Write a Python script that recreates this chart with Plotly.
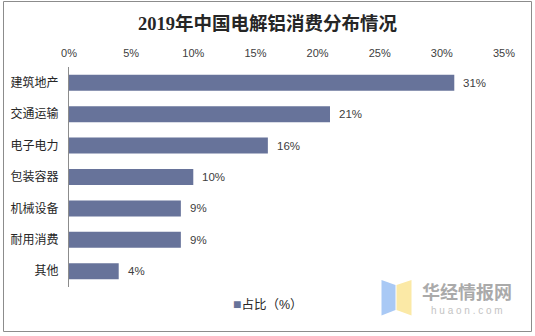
import plotly.graph_objects as go

categories = ["建筑地产", "交通运输", "电子电力", "包装容器", "机械设备", "耐用消费", "其他"]
values = [31, 21, 16, 10, 9, 9, 4]
x_ticks = [0, 5, 10, 15, 20, 25, 30, 35]
series_name = "占比（%）"
title_text = "2019年中国电解铝消费分布情况"

W, H = 535, 336
ML, MR, MT, MB = 69, 31, 67, 49
PW, PH = W - ML - MR, H - MT - MB

def px(x):
    return (x - ML) / PW

def py(y):
    return (H - MB - y) / PH

BAR = "#67739A"
TXT = "#404040"
SANS = "Liberation Sans, Arial, Noto Sans CJK SC, sans-serif"

fig = go.Figure()
fig.add_trace(go.Bar(
    x=values, y=categories, orientation="h",
    marker=dict(color=BAR, line=dict(width=0)),
    width=0.51,
    showlegend=False,
    name=series_name,
))
fig.add_trace(go.Scatter(
    x=[None], y=[None], mode="markers",
    marker=dict(symbol="square", size=1, color="rgba(0,0,0,0)"),
    name=f"<span style='color:{BAR};font-family:Liberation Sans;font-size:14px'>■</span>{series_name}",
    showlegend=True,
))

shapes = [
    dict(type="rect", xref="paper", yref="paper",
         x0=px(3.5), x1=px(531.5), y0=py(331.5), y1=py(1.5),
         line=dict(color="#8c8c8c", width=1), fillcolor="rgba(0,0,0,0)", layer="below"),
    dict(type="path", xref="paper", yref="paper",
         path=f"M{px(381.5)},{py(280)} L{px(395.5)},{py(285)} L{px(395.5)},{py(310)} L{px(381.5)},{py(315.5)} Z",
         fillcolor="#a9c9f5", line=dict(width=0), layer="below"),
    dict(type="path", xref="paper", yref="paper",
         path=f"M{px(396.5)},{py(285)} L{px(411.5)},{py(280)} L{px(411.5)},{py(315.5)} L{px(396.5)},{py(310)} Z",
         fillcolor="#fbe9a6", line=dict(width=0), layer="below"),
]

annotations = [
    dict(text=f"{v}%", xref="x", yref="y", x=v, y=c, xanchor="left", yanchor="middle",
         xshift=7, showarrow=False, font=dict(family=SANS, size=11.5, color=TXT))
    for c, v in zip(categories, values)
]
annotations += [
    dict(text="<b>华经情报网</b>", xref="paper", yref="paper", x=px(466.5), y=py(290.5),
         xanchor="center", yanchor="middle", showarrow=False,
         font=dict(family="Noto Sans CJK SC, sans-serif", size=18, color="#aaaaaa")),
    dict(text="h u a o n . c o m", xref="paper", yref="paper", x=px(466.5), y=py(310),
         xanchor="center", yanchor="middle", showarrow=False,
         font=dict(family=SANS, size=10, color="#c4c4c4")),
]

fig.update_layout(
    width=W, height=H,
    margin=dict(l=ML, r=MR, t=MT, b=MB, pad=0),
    paper_bgcolor="white", plot_bgcolor="white",
    title=dict(text=f"<b>{title_text}</b>", x=0.5, xanchor="center", xref="container",
               y=1 - 23.5 / H, yanchor="middle", yref="container",
               font=dict(family="Liberation Serif, Times New Roman, Noto Sans CJK SC, serif", size=18.5, color="#262626")),
    xaxis=dict(side="top", range=[0, 35], tickvals=x_ticks, ticktext=[f"{t}%" for t in x_ticks],
               showgrid=False, zeroline=False, showline=False,
               ticks="outside", ticklen=5, tickcolor="rgba(0,0,0,0)",
               tickfont=dict(family=SANS, size=11, color=TXT), fixedrange=True),
    yaxis=dict(autorange="reversed", showgrid=False, zeroline=False,
               showline=True, linecolor="#8c8c8c", linewidth=1,
               ticks="outside", ticklen=7, tickcolor="rgba(0,0,0,0)",
               tickfont=dict(family=SANS, size=12, color="#262626"), fixedrange=True),
    bargap=0.49,
    legend=dict(orientation="h", x=px(193), xanchor="left", y=py(304), yanchor="middle",
                font=dict(family=SANS, size=12.5, color="#262626"),
                bgcolor="rgba(0,0,0,0)", itemwidth=30, tracegroupgap=0),
    shapes=shapes,
    annotations=annotations,
    showlegend=True,
)

fig.write_html("out.html")
